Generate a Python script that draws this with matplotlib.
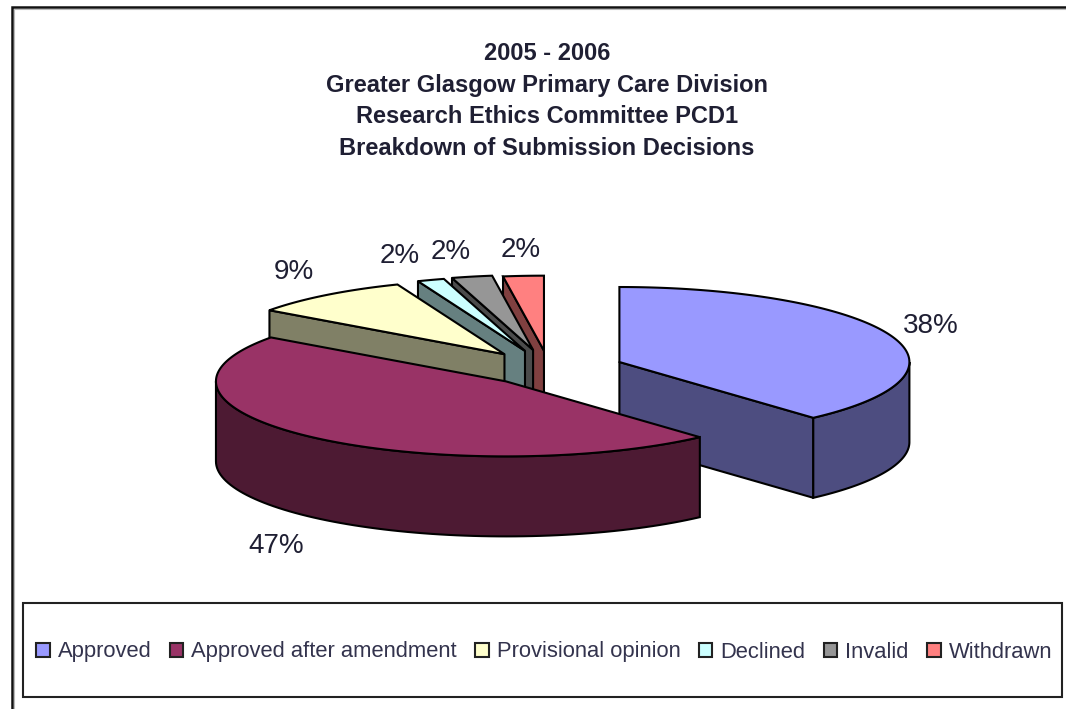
import numpy as np
import matplotlib
matplotlib.use("Agg")
import matplotlib.pyplot as plt
from matplotlib.patches import Polygon, Rectangle, Patch

categories = ["Approved", "Approved after amendment", "Provisional opinion", "Declined", "Invalid", "Withdrawn"]
counts = [51, 62, 12, 2, 3, 3]
title_lines = ["2005 - 2006", "Greater Glasgow Primary Care Division",
               "Research Ethics Committee PCD1", "Breakdown of Submission Decisions"]

colors = ["#9999FF", "#993366", "#FFFFCC", "#CCFFFF", "#969696", "#FF8080"]
explode = [0.26, 0.222, 0.25, 0.255, 0.26, 0.245]
label_pos = [(931, 326), (276, 546), (294, 272), (400, 256), (451, 252), (521, 250)]
CX, CY, RX, RY, DEPTH = 549, 369, 290, 75, 80
TXT = "#1f1f33"
FONT = ["Liberation Sans", "DejaVu Sans"]
LW = 1.5

fig = plt.figure(figsize=(10.66, 7.09), dpi=100, facecolor="white")
ax = fig.add_axes([0, 0, 1, 1])
ax.set_xlim(0, 1066)
ax.set_ylim(709, 0)
ax.axis("off")

# outer frame
ax.plot([12, 12, 1066], [709, 7, 7], color="#111111", lw=1.8, solid_joinstyle="miter")
ax.plot([14, 14, 1066], [709, 9, 9], color="#bbbbbb", lw=0.8)

values = np.array(counts, dtype=float)
fractions = values / values.sum()
edges = np.concatenate([[0], np.cumsum(fractions) * 360])


def darker(c):
    r, g, b = matplotlib.colors.to_rgb(c)
    return (r * 0.5, g * 0.5, b * 0.5)


def rim(cx, cy, deg):
    t = np.radians(deg)
    return np.column_stack([cx + RX * np.sin(t), cy - RY * np.cos(t)])


def wall(p, q, color, z):
    pts = np.array([p, q, q + [0, DEPTH], p + [0, DEPTH]])
    ax.add_patch(Polygon(pts, closed=True, fc=color, ec="black", lw=LW, zorder=z, joinstyle="round"))


draw_order = [5, 4, 3, 2, 0, 1]
for rank, i in enumerate(draw_order):
    a0, a1 = edges[i], edges[i + 1]
    mid = np.radians((a0 + a1) / 2)
    cx = CX + explode[i] * RX * np.sin(mid)
    cy = CY - explode[i] * RY * np.cos(mid)
    apex = np.array([cx, cy])
    z = 2 + rank
    side = darker(colors[i])
    p0 = rim(cx, cy, [a0])[0]
    p1 = rim(cx, cy, [a1])[0]
    # cut faces seen from the front
    if p0[0] < apex[0]:
        wall(apex, p0, side, z)
    if apex[0] < p1[0]:
        wall(p1, apex, side, z)
    # curved outer wall, front half only
    lo, hi = max(a0, 90), min(a1, 270)
    if hi > lo:
        arc = rim(cx, cy, np.linspace(lo, hi, 80))
        pts = np.vstack([arc, (arc + [0, DEPTH])[::-1]])
        ax.add_patch(Polygon(pts, closed=True, fc=side, ec="black", lw=LW, zorder=z))
    arc = rim(cx, cy, np.linspace(a0, a1, max(int(a1 - a0) * 2, 8)))
    ax.add_patch(Polygon(np.vstack([apex, arc]), closed=True, fc=colors[i], ec="black", lw=LW, zorder=z + 0.5))

for frac, (x, y) in zip(fractions, label_pos):
    ax.text(x, y, f"{frac * 100:.0f}%", ha="center", va="center", fontsize=20,
            color=TXT, family=FONT, zorder=20)

ax.text(547, 101, "\n".join(title_lines), ha="center", va="center", fontsize=17, fontweight="bold",
        color=TXT, family=FONT, linespacing=1.49, zorder=20)

# legend
ax.add_patch(Rectangle((23, 603), 1039, 94, fc="white", ec="#222222", lw=1.5, zorder=10))
handles = [Patch(fc=c, ec="#222222", lw=1.5) for c in colors]
leg = ax.legend(handles, categories, loc="center", bbox_to_anchor=(36, 605, 1016, 94),
                bbox_transform=ax.transData, mode="expand", ncol=6, frameon=False,
                prop={"family": FONT, "size": 15.8}, handlelength=0.62, handleheight=0.62,
                handletextpad=0.36, borderaxespad=0, borderpad=0, columnspacing=0.5)
leg.set_zorder(11)
for t in leg.get_texts():
    t.set_color("#33334d")

fig.savefig("out.png", dpi=100)
